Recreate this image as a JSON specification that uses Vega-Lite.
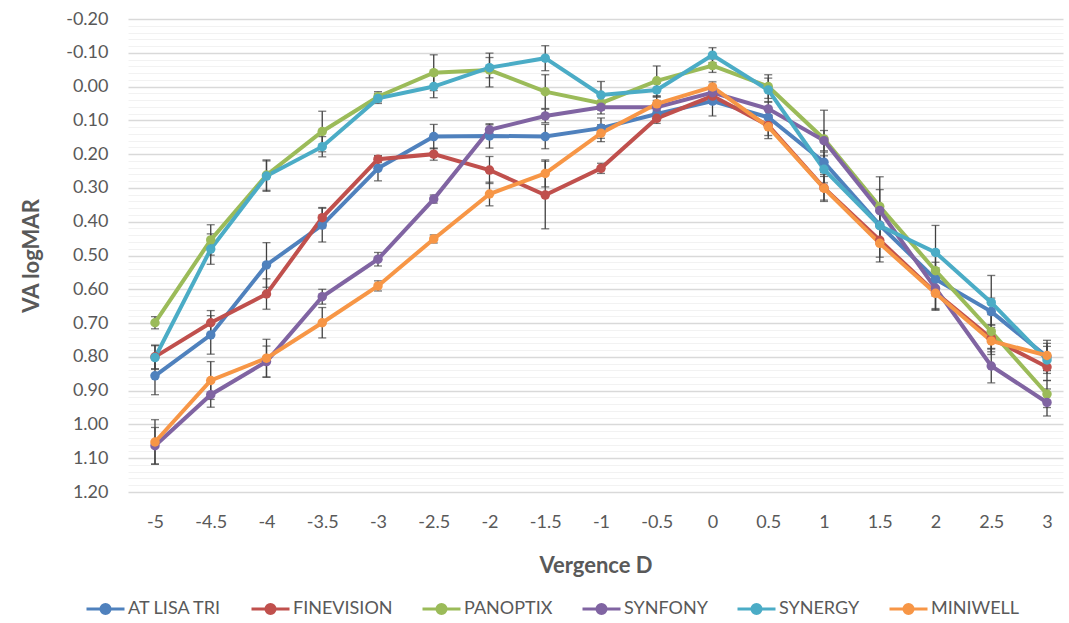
{
  "$schema": "https://vega.github.io/schema/vega-lite/v6.json",
  "width": 935,
  "height": 473,
  "autosize": {"type": "none"},
  "padding": {"left": 128, "top": 19, "right": 6, "bottom": 131},
  "config": {"view": {"stroke": null}, "font": "Lato"},
  "data": {"values": [
    {"s":"AT LISA TRI","x":-5,"v":0.856,"e":0.056},{"s":"AT LISA TRI","x":-4.5,"v":0.735,"e":0.057},{"s":"AT LISA TRI","x":-4,"v":0.528,"e":0.066},{"s":"AT LISA TRI","x":-3.5,"v":0.41,"e":0.05},{"s":"AT LISA TRI","x":-3,"v":0.242,"e":0.037},{"s":"AT LISA TRI","x":-2.5,"v":0.148,"e":0.036},{"s":"AT LISA TRI","x":-2,"v":0.146,"e":0.036},{"s":"AT LISA TRI","x":-1.5,"v":0.148,"e":0.036},{"s":"AT LISA TRI","x":-1,"v":0.123,"e":0.03},{"s":"AT LISA TRI","x":-0.5,"v":0.081,"e":0.02},{"s":"AT LISA TRI","x":0,"v":0.043,"e":0.044},{"s":"AT LISA TRI","x":0.5,"v":0.091,"e":0.03},{"s":"AT LISA TRI","x":1,"v":0.224,"e":0.03},{"s":"AT LISA TRI","x":1.5,"v":0.41,"e":0.04},{"s":"AT LISA TRI","x":2,"v":0.57,"e":0.05},{"s":"AT LISA TRI","x":2.5,"v":0.666,"e":0.04},{"s":"AT LISA TRI","x":3,"v":0.8,"e":0.04},
    {"s":"FINEVISION","x":-5,"v":0.8,"e":0.035},{"s":"FINEVISION","x":-4.5,"v":0.699,"e":0.036},{"s":"FINEVISION","x":-4,"v":0.614,"e":0.045},{"s":"FINEVISION","x":-3.5,"v":0.388,"e":0.03},{"s":"FINEVISION","x":-3,"v":0.215,"e":0.01},{"s":"FINEVISION","x":-2.5,"v":0.2,"e":0.018},{"s":"FINEVISION","x":-2,"v":0.247,"e":0.04},{"s":"FINEVISION","x":-1.5,"v":0.321,"e":0.1},{"s":"FINEVISION","x":-1,"v":0.242,"e":0.015},{"s":"FINEVISION","x":-0.5,"v":0.094,"e":0.015},{"s":"FINEVISION","x":0,"v":0.028,"e":0.02},{"s":"FINEVISION","x":0.5,"v":0.115,"e":0.03},{"s":"FINEVISION","x":1,"v":0.3,"e":0.04},{"s":"FINEVISION","x":1.5,"v":0.455,"e":0.05},{"s":"FINEVISION","x":2,"v":0.61,"e":0.05},{"s":"FINEVISION","x":2.5,"v":0.745,"e":0.04},{"s":"FINEVISION","x":3,"v":0.83,"e":0.04},
    {"s":"PANOPTIX","x":-5,"v":0.699,"e":0.018},{"s":"PANOPTIX","x":-4.5,"v":0.454,"e":0.045},{"s":"PANOPTIX","x":-4,"v":0.262,"e":0.045},{"s":"PANOPTIX","x":-3.5,"v":0.133,"e":0.06},{"s":"PANOPTIX","x":-3,"v":0.03,"e":0.015},{"s":"PANOPTIX","x":-2.5,"v":-0.041,"e":0.053},{"s":"PANOPTIX","x":-2,"v":-0.049,"e":0.05},{"s":"PANOPTIX","x":-1.5,"v":0.015,"e":0.05},{"s":"PANOPTIX","x":-1,"v":0.049,"e":0.02},{"s":"PANOPTIX","x":-0.5,"v":-0.017,"e":0.044},{"s":"PANOPTIX","x":0,"v":-0.062,"e":0.02},{"s":"PANOPTIX","x":0.5,"v":0.0,"e":0.035},{"s":"PANOPTIX","x":1,"v":0.155,"e":0.085},{"s":"PANOPTIX","x":1.5,"v":0.355,"e":0.05},{"s":"PANOPTIX","x":2,"v":0.545,"e":0.06},{"s":"PANOPTIX","x":2.5,"v":0.725,"e":0.05},{"s":"PANOPTIX","x":3,"v":0.91,"e":0.04},
    {"s":"SYNFONY","x":-5,"v":1.063,"e":0.054},{"s":"SYNFONY","x":-4.5,"v":0.912,"e":0.037},{"s":"SYNFONY","x":-4,"v":0.814,"e":0.046},{"s":"SYNFONY","x":-3.5,"v":0.622,"e":0.022},{"s":"SYNFONY","x":-3,"v":0.511,"e":0.02},{"s":"SYNFONY","x":-2.5,"v":0.333,"e":0.012},{"s":"SYNFONY","x":-2,"v":0.128,"e":0.015},{"s":"SYNFONY","x":-1.5,"v":0.087,"e":0.02},{"s":"SYNFONY","x":-1,"v":0.061,"e":0.02},{"s":"SYNFONY","x":-0.5,"v":0.061,"e":0.02},{"s":"SYNFONY","x":0,"v":0.018,"e":0.02},{"s":"SYNFONY","x":0.5,"v":0.066,"e":0.02},{"s":"SYNFONY","x":1,"v":0.16,"e":0.03},{"s":"SYNFONY","x":1.5,"v":0.367,"e":0.1},{"s":"SYNFONY","x":2,"v":0.597,"e":0.06},{"s":"SYNFONY","x":2.5,"v":0.827,"e":0.05},{"s":"SYNFONY","x":3,"v":0.935,"e":0.04},
    {"s":"SYNERGY","x":-5,"v":0.802,"e":0.035},{"s":"SYNERGY","x":-4.5,"v":0.481,"e":0.045},{"s":"SYNERGY","x":-4,"v":0.265,"e":0.045},{"s":"SYNERGY","x":-3.5,"v":0.178,"e":0.03},{"s":"SYNERGY","x":-3,"v":0.035,"e":0.015},{"s":"SYNERGY","x":-2.5,"v":0.0,"e":0.033},{"s":"SYNERGY","x":-2,"v":-0.056,"e":0.03},{"s":"SYNERGY","x":-1.5,"v":-0.084,"e":0.037},{"s":"SYNERGY","x":-1,"v":0.025,"e":0.04},{"s":"SYNERGY","x":-0.5,"v":0.01,"e":0.02},{"s":"SYNERGY","x":0,"v":-0.093,"e":0.022},{"s":"SYNERGY","x":0.5,"v":0.01,"e":0.035},{"s":"SYNERGY","x":1,"v":0.245,"e":0.04},{"s":"SYNERGY","x":1.5,"v":0.412,"e":0.05},{"s":"SYNERGY","x":2,"v":0.491,"e":0.08},{"s":"SYNERGY","x":2.5,"v":0.639,"e":0.08},{"s":"SYNERGY","x":3,"v":0.809,"e":0.04},
    {"s":"MINIWELL","x":-5,"v":1.052,"e":0.066},{"s":"MINIWELL","x":-4.5,"v":0.87,"e":0.056},{"s":"MINIWELL","x":-4,"v":0.804,"e":0.056},{"s":"MINIWELL","x":-3.5,"v":0.699,"e":0.045},{"s":"MINIWELL","x":-3,"v":0.59,"e":0.015},{"s":"MINIWELL","x":-2.5,"v":0.451,"e":0.012},{"s":"MINIWELL","x":-2,"v":0.318,"e":0.035},{"s":"MINIWELL","x":-1.5,"v":0.257,"e":0.04},{"s":"MINIWELL","x":-1,"v":0.138,"e":0.025},{"s":"MINIWELL","x":-0.5,"v":0.051,"e":0.02},{"s":"MINIWELL","x":0,"v":0.001,"e":0.015},{"s":"MINIWELL","x":0.5,"v":0.119,"e":0.035},{"s":"MINIWELL","x":1,"v":0.301,"e":0.035},{"s":"MINIWELL","x":1.5,"v":0.464,"e":0.055},{"s":"MINIWELL","x":2,"v":0.612,"e":0.05},{"s":"MINIWELL","x":2.5,"v":0.753,"e":0.04},{"s":"MINIWELL","x":3,"v":0.796,"e":0.045}
  ]},
  "resolve": {"axis": {"y": "independent"}},
  "layer": [
    {
      "mark": {"type": "point", "opacity": 0},
      "encoding": {
        "x": {"field": "x", "type": "quantitative",
          "scale": {"domain": [-5.242, 3.1435], "nice": false, "zero": false},
          "axis": {"values": [-5,-4.5,-4,-3.5,-3,-2.5,-2,-1.5,-1,-0.5,0,0.5,1,1.5,2,2.5,3], "labelExpr": "'' + datum.value", "grid": false, "domain": false, "ticks": false,
            "labelFontSize": 18, "labelColor": "#595959", "labelPadding": 21,
            "title": "Vergence D", "titleFontSize": 22, "titleFontWeight": "bold", "titleColor": "#595959", "titlePadding": 24}},
        "y": {"field": "v", "type": "quantitative",
          "scale": {"domain": [-0.2, 1.2], "reverse": true, "nice": false, "zero": false},
          "axis": {"orient": "left", "values": [-0.18,-0.16,-0.14,-0.12,-0.08,-0.06,-0.04,-0.02,0.02,0.04,0.06,0.08,0.12,0.14,0.16,0.18,0.22,0.24,0.26,0.28,0.32,0.34,0.36,0.38,0.42,0.44,0.46,0.48,0.52,0.54,0.56,0.58,0.62,0.64,0.66,0.68,0.72,0.74,0.76,0.78,0.82,0.84,0.86,0.88,0.92,0.94,0.96,0.98,1.02,1.04,1.06,1.08,1.12,1.14,1.16,1.18],
            "grid": true, "gridColor": "#F2F2F2", "gridWidth": 1, "labels": false, "ticks": false, "domain": false, "title": null}}
      }
    },
    {
      "mark": {"type": "errorbar", "ticks": {"size": 8, "color": "#404040", "strokeWidth": 1.3}, "color": "#404040", "thickness": 1.3},
      "encoding": {
        "x": {"field": "x", "type": "quantitative"},
        "y": {"field": "v", "type": "quantitative",
          "axis": {"orient": "left", "values": [-0.2,-0.1,0,0.1,0.2,0.3,0.4,0.5,0.6,0.7,0.8,0.9,1.0,1.1,1.2],
            "labelExpr": "replace(format(datum.value, '.2f'), '−', '-')",
            "grid": true, "gridColor": "#D9D9D9", "gridWidth": 1.3, "domain": false, "ticks": false,
            "labelFontSize": 18, "labelColor": "#595959", "labelPadding": 20,
            "title": "VA logMAR", "titleFontSize": 22, "titleFontWeight": "bold", "titleColor": "#595959", "titlePadding": 22}},
        "yError": {"field": "e"},
        "detail": {"field": "s"}
      }
    },
    {
      "mark": {"type": "line", "strokeWidth": 4},
      "encoding": {
        "x": {"field": "x", "type": "quantitative"},
        "y": {"field": "v", "type": "quantitative", "axis": null},
        "color": {"field": "s", "type": "nominal",
          "scale": {"domain": ["AT LISA TRI","FINEVISION","PANOPTIX","SYNFONY","SYNERGY","MINIWELL"],
                    "range": ["#4F81BD","#C0504D","#9BBB59","#8064A2","#4BACC6","#F79646"]},
          "legend": {"orient": "none", "legendX": -43, "legendY": 569, "direction": "horizontal", "columns": 6,
            "title": null, "labelFontSize": 18, "labelColor": "#595959", "labelOffset": 2, "columnPadding": 23,
            "symbolType": "M -1 0 L 1 0 M -0.24 0 A 0.24 0.24 0 1 1 0.24 0 A 0.24 0.24 0 1 1 -0.24 0 Z",
            "symbolSize": 1444, "symbolStrokeWidth": 3,
            "encode": {"symbols": {"update": {"fill": {"scale": "color", "field": "value"}, "stroke": {"scale": "color", "field": "value"}}}}}}
      }
    },
    {
      "mark": {"type": "circle", "size": 90, "opacity": 1},
      "encoding": {
        "x": {"field": "x", "type": "quantitative"},
        "y": {"field": "v", "type": "quantitative", "axis": null},
        "color": {"field": "s", "type": "nominal"}
      }
    }
  ]
}
